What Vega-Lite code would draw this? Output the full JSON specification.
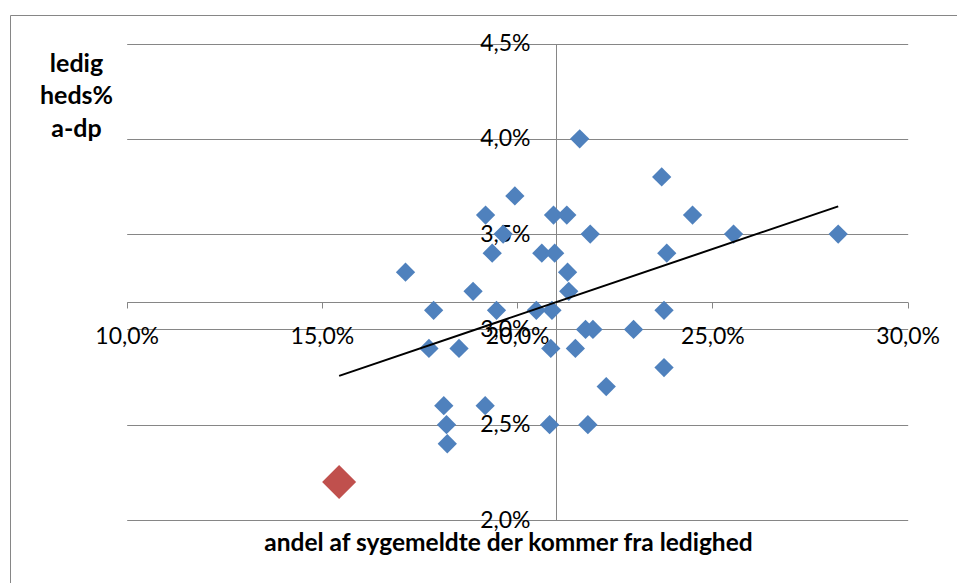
{
  "$schema": "https://vega.github.io/schema/vega-lite/v6.json",
  "width": 947,
  "height": 568,
  "autosize": {"type": "none"},
  "padding": {"left": 10, "top": 15, "right": 0, "bottom": 0},
  "background": "white",
  "config": {
    "font": "Lato",
    "view": {"stroke": "#868686", "strokeWidth": 1, "strokeDash": [947, 1515, 568, 0]}
  },
  "data": {
    "values": [
      {"andel": 21.60, "ledighed": 4.0, "serie": "kommuner"},
      {"andel": 23.70, "ledighed": 3.8, "serie": "kommuner"},
      {"andel": 24.49, "ledighed": 3.6, "serie": "kommuner"},
      {"andel": 20.93, "ledighed": 3.6, "serie": "kommuner"},
      {"andel": 21.27, "ledighed": 3.6, "serie": "kommuner"},
      {"andel": 19.19, "ledighed": 3.6, "serie": "kommuner"},
      {"andel": 19.94, "ledighed": 3.7, "serie": "kommuner"},
      {"andel": 21.87, "ledighed": 3.5, "serie": "kommuner"},
      {"andel": 25.54, "ledighed": 3.5, "serie": "kommuner"},
      {"andel": 28.22, "ledighed": 3.5, "serie": "kommuner"},
      {"andel": 19.64, "ledighed": 3.5, "serie": "kommuner"},
      {"andel": 23.83, "ledighed": 3.4, "serie": "kommuner"},
      {"andel": 19.36, "ledighed": 3.4, "serie": "kommuner"},
      {"andel": 20.63, "ledighed": 3.4, "serie": "kommuner"},
      {"andel": 20.96, "ledighed": 3.4, "serie": "kommuner"},
      {"andel": 17.14, "ledighed": 3.3, "serie": "kommuner"},
      {"andel": 21.29, "ledighed": 3.3, "serie": "kommuner"},
      {"andel": 21.32, "ledighed": 3.2, "serie": "kommuner"},
      {"andel": 18.87, "ledighed": 3.2, "serie": "kommuner"},
      {"andel": 17.86, "ledighed": 3.1, "serie": "kommuner"},
      {"andel": 19.47, "ledighed": 3.1, "serie": "kommuner"},
      {"andel": 20.49, "ledighed": 3.1, "serie": "kommuner"},
      {"andel": 20.89, "ledighed": 3.1, "serie": "kommuner"},
      {"andel": 23.76, "ledighed": 3.1, "serie": "kommuner"},
      {"andel": 21.75, "ledighed": 3.0, "serie": "kommuner"},
      {"andel": 21.94, "ledighed": 3.0, "serie": "kommuner"},
      {"andel": 22.98, "ledighed": 3.0, "serie": "kommuner"},
      {"andel": 17.74, "ledighed": 2.9, "serie": "kommuner"},
      {"andel": 18.51, "ledighed": 2.9, "serie": "kommuner"},
      {"andel": 20.86, "ledighed": 2.9, "serie": "kommuner"},
      {"andel": 21.49, "ledighed": 2.9, "serie": "kommuner"},
      {"andel": 23.76, "ledighed": 2.8, "serie": "kommuner"},
      {"andel": 22.28, "ledighed": 2.7, "serie": "kommuner"},
      {"andel": 19.18, "ledighed": 2.6, "serie": "kommuner"},
      {"andel": 18.12, "ledighed": 2.6, "serie": "kommuner"},
      {"andel": 21.81, "ledighed": 2.5, "serie": "kommuner"},
      {"andel": 20.83, "ledighed": 2.5, "serie": "kommuner"},
      {"andel": 18.19, "ledighed": 2.5, "serie": "kommuner"},
      {"andel": 18.21, "ledighed": 2.4, "serie": "kommuner"},
      {"andel": 15.44, "ledighed": 2.2, "serie": "fremhævet"}
    ]
  },
  "encoding": {
    "x": {
      "field": "andel",
      "type": "quantitative",
      "scale": {"domain": [10, 30], "range": [116.7, 897.7], "nice": false, "zero": false},
      "axis": {
        "orient": "bottom",
        "offset": -281,
        "values": [10, 15, 20, 25, 30],
        "labelExpr": "replace(format(datum.value, '.1f'), '.', ',') + '%'",
        "labelFlush": false,
        "labelOverlap": false,
        "labelFont": "Lato",
        "labelFontSize": 23,
        "labelColor": "#000000",
        "labelPadding": 17,
        "tickSize": 6,
        "tickColor": "#868686",
        "domainColor": "#868686",
        "grid": false,
        "title": "andel af sygemeldte der kommer fra ledighed",
        "titleFont": "Lato",
        "titleFontSize": 24.5,
        "titleFontWeight": "bold",
        "titleColor": "#000000",
        "titleAlign": "center",
        "titleBaseline": "alphabetic",
        "titleX": 498,
        "titleY": 248
      }
    },
    "y": {
      "field": "ledighed",
      "type": "quantitative",
      "scale": {"domain": [2, 4.5], "range": [505, 28.5], "nice": false, "zero": false},
      "axis": {
        "orient": "left",
        "offset": -546,
        "values": [2, 2.5, 3, 3.5, 4, 4.5],
        "labelExpr": "replace(format(datum.value, '.1f'), '.', ',') + '%'",
        "labelFlush": false,
        "labelOverlap": false,
        "labelFont": "Lato",
        "labelFontSize": 23,
        "labelColor": "#000000",
        "labelPadding": 20,
        "tickSize": 6,
        "tickColor": "#868686",
        "domainColor": "#868686",
        "grid": true,
        "gridColor": "#868686",
        "gridWidth": 1,
        "title": ["ledig", "heds%", "a-dp"],
        "titleFont": "Lato",
        "titleFontSize": 25,
        "titleFontWeight": "bold",
        "titleColor": "#000000",
        "titleAngle": 0,
        "titleAlign": "center",
        "titleBaseline": "alphabetic",
        "titleLineHeight": 32.5,
        "titleX": -480,
        "titleY": 56
      }
    }
  },
  "layer": [
    {
      "mark": {"type": "point", "shape": "diamond", "filled": true, "opacity": 1},
      "encoding": {
        "color": {
          "field": "serie",
          "type": "nominal",
          "scale": {"domain": ["kommuner", "fremhævet"], "range": ["#4F81BD", "#C0504D"]},
          "legend": null
        },
        "size": {
          "field": "serie",
          "type": "ordinal",
          "scale": {"domain": ["kommuner", "fremhævet"], "range": [372, 1156]},
          "legend": null
        }
      }
    },
    {
      "transform": [{"regression": "ledighed", "on": "andel"}],
      "mark": {"type": "line", "color": "#000000", "strokeWidth": 2}
    }
  ]
}
